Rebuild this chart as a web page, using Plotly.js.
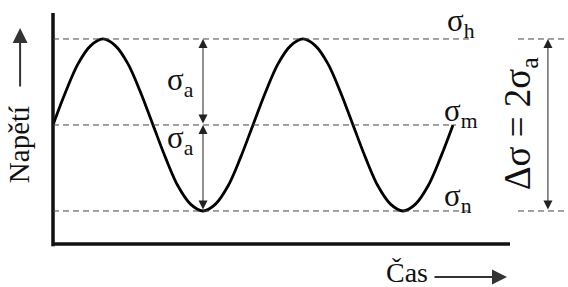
<!DOCTYPE html>
<html>
<head>
<meta charset="utf-8">
<script src="https://cdn.plot.ly/plotly-3.0.1.min.js"></script>
<style>html,body{margin:0;padding:0;background:#fff;} #chart{width:568px;height:287px;}</style>
</head>
<body>
<div id="chart"></div>
<script>
// Time samples (period = 8 units, two full periods)
const time = [0,0.5,1,1.5,2,2.5,3,3.5,4,4.5,5,5.5,6,6.5,7,7.5,8,8.5,9,9.5,10,10.5,11,11.5,12,12.5,13,13.5,14,14.5,15,15.5,16];
// Stress (mean = 0, amplitude = 1)
const stress = [0,0.38,0.71,0.92,1,0.92,0.71,0.38,0,-0.38,-0.71,-0.92,-1,-0.92,-0.71,-0.38,0,0.38,0.71,0.92,1,0.92,0.71,0.38,0,-0.38,-0.71,-0.92,-1,-0.92,-0.71,-0.38,0];
// Levels
const levelNames = ['σ<sub>h</sub>','σ<sub>m</sub>','σ<sub>n</sub>'];
const levelValues = [1, 0, -1];
const troughTime = 6;

const serif = 'Liberation Serif, Times New Roman, serif';
const dashStyle = {color:'#444', width:1, dash:'6px,4px'};

const shapes = [
  // axes
  {type:'line', xref:'paper', yref:'paper', x0:0, x1:0, y0:-0.01, y1:1, line:{color:'#111', width:3.5}},
  {type:'line', xref:'paper', yref:'paper', x0:0, x1:1, y0:0, y1:0, line:{color:'#111', width:3.5}},
  // dashed levels
  {type:'line', xref:'paper', yref:'y', x0:0, x1:0.919, y0:levelValues[0], y1:levelValues[0], line:dashStyle},
  {type:'line', xref:'paper', yref:'y', x0:0, x1:0.882, y0:levelValues[1], y1:levelValues[1], line:dashStyle},
  {type:'line', xref:'paper', yref:'y', x0:0, x1:0.919, y0:levelValues[2], y1:levelValues[2], line:dashStyle},
  {type:'line', xref:'paper', yref:'y', x0:1.0175, x1:1.127, y0:levelValues[0], y1:levelValues[0], line:dashStyle},
  {type:'line', xref:'paper', yref:'y', x0:1.0175, x1:1.127, y0:levelValues[2], y1:levelValues[2], line:dashStyle}
];

const textFont = {family:serif, size:31, color:'#111'};
const annotations = [
  // level labels
  {xref:'paper', yref:'y', x:0.858, y:levelValues[0]+0.19, xanchor:'left', yanchor:'middle', text:levelNames[0], showarrow:false, font:textFont},
  {xref:'paper', yref:'y', x:0.852, y:levelValues[1]+0.14, xanchor:'left', yanchor:'middle', text:levelNames[1], showarrow:false, font:textFont},
  {xref:'paper', yref:'y', x:0.852, y:levelValues[2]+0.15, xanchor:'left', yanchor:'middle', text:levelNames[2], showarrow:false, font:textFont},
  // amplitude labels
  {xref:'x', yref:'y', x:troughTime-0.3, y:0.5, xanchor:'right', yanchor:'middle', text:'σ<sub>a</sub>', showarrow:false, font:textFont},
  {xref:'x', yref:'y', x:troughTime-0.3, y:-0.17, xanchor:'right', yanchor:'middle', text:'σ<sub>a</sub>', showarrow:false, font:textFont},
  // amplitude arrows
  {xref:'x', yref:'y', x:troughTime, y:levelValues[0], axref:'x', ayref:'y', ax:troughTime, ay:levelValues[1], text:'', showarrow:true, arrowside:'end+start', arrowhead:2, startarrowhead:2, arrowsize:1.8, startarrowsize:1.8, arrowwidth:1, arrowcolor:'#222'},
  {xref:'x', yref:'y', x:troughTime, y:levelValues[1], axref:'x', ayref:'y', ax:troughTime, ay:levelValues[2], text:'', showarrow:true, arrowside:'end+start', arrowhead:2, startarrowhead:2, arrowsize:1.8, startarrowsize:1.8, arrowwidth:1, arrowcolor:'#222'},
  // range arrow
  {xref:'paper', yref:'y', x:1.083, y:levelValues[0], axref:'pixel', ayref:'y', ax:0, ay:levelValues[2], text:'', showarrow:true, arrowside:'end+start', arrowhead:2, startarrowhead:2, arrowsize:1.8, startarrowsize:1.8, arrowwidth:1, arrowcolor:'#222'},
  {xref:'paper', yref:'y', x:1.022, y:0.02, xanchor:'center', yanchor:'middle', textangle:-90, text:'Δσ = 2σ<sub>a</sub>', showarrow:false, font:{family:serif, size:37, color:'#111'}},
  // axis labels
  {xref:'paper', yref:'paper', x:-0.074, y:0.4286, xanchor:'center', yanchor:'middle', textangle:-90, text:'Napětí', showarrow:false, font:{family:serif, size:29, color:'#111'}},
  {xref:'paper', yref:'paper', x:-0.072, y:0.935, axref:'pixel', ayref:'pixel', ax:0, ay:60, text:'', showarrow:true, arrowhead:2, arrowsize:1.5, arrowwidth:2, arrowcolor:'#333'},
  {xref:'paper', yref:'paper', x:0.775, y:-0.125, xanchor:'center', yanchor:'middle', text:'Čas', showarrow:false, font:{family:serif, size:28, color:'#111'}},
  {xref:'paper', yref:'paper', x:0.9934, y:-0.143, axref:'pixel', ayref:'pixel', ax:-74, ay:0, text:'', showarrow:true, arrowhead:2, arrowsize:1.5, arrowwidth:2, arrowcolor:'#333'}
];

const trace = {x:time, y:stress, type:'scatter', mode:'lines', line:{color:'#000', width:2.8, shape:'spline'}, hoverinfo:'skip'};

const layout = {
  width:568, height:287,
  margin:{l:53, r:58, t:13, b:43},
  paper_bgcolor:'#fff', plot_bgcolor:'#fff',
  showlegend:false,
  xaxis:{range:[0,18.28], showgrid:false, zeroline:false, showline:false, showticklabels:false, ticks:''},
  yaxis:{range:[-1.384,1.302], showgrid:false, zeroline:false, showline:false, showticklabels:false, ticks:''},
  shapes:shapes,
  annotations:annotations
};

Plotly.newPlot('chart', [trace], layout, {displayModeBar:false, staticPlot:true});
</script>
</body>
</html>
